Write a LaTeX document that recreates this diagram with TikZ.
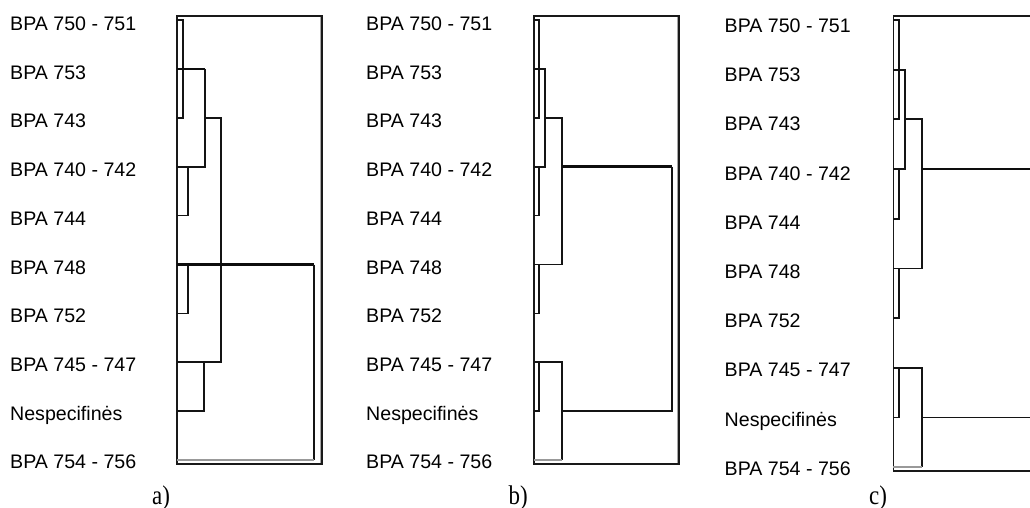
\documentclass[tikz,border=0pt]{standalone}
\usepackage{fontspec}
\usetikzlibrary{calc}
\newfontfamily\lblfont{Liberation Sans}
\newfontfamily\capfont{Liberation Serif}
\begin{document}
\begin{tikzpicture}[x=1pt,y=-1pt,
  den/.style={draw=black!92,line width=1.7pt},
  heavy/.style={draw=black!95,line width=2.6pt},
  faint/.style={draw=black!40,line width=1.6pt},
  frame/.style={draw=black!90,line width=1.6pt},
  lbl/.style={anchor=base west,inner sep=0pt,font=\lblfont\fontsize{19.6}{20}\selectfont},
  captxt/.style={anchor=base,inner sep=0pt,font=\capfont\fontsize{27}{27}\selectfont}]
\useasboundingbox (0,0) rectangle (1030,508);

% leaf labels of the three dendrograms
\foreach \t [count=\i from 0] in {BPA 750 - 751,BPA 753,BPA 743,BPA 740 - 742,BPA 744,BPA 748,BPA 752,BPA 745 - 747,Nespecifinės,BPA 754 - 756}{
  \node[lbl] (la\i) at (10,{30.5+48.7*\i}) {\t};
  \node[lbl] (lb\i) at (366,{30.5+48.7*\i}) {\t};
  \node[lbl] (lc\i) at (724.5,{32.5+49.2*\i}) {\t};
}

% leaf positions on the left axis of each dendrogram
\foreach \i in {1,...,10}{
  \coordinate (a\i) at (177,{20+48.9*(\i-1)});
  \coordinate (b\i) at (534,{20+48.9*(\i-1)});
  \coordinate (c\i) at (893.3,{20+49.67*(\i-1)});
}

% ---- dendrogram a)
\draw[frame] (177,16) rectangle (322,464);
\draw[draw=black!35,line width=1pt] (320,17) -- (320,463);
\draw[den] (a1) -- ++(5.7,0) |- (a3);
\draw[heavy] (a2) -- ++(28,0);
\draw[den] (a2) ++(28,0) |- (a4);
\draw[den] (a3) ++(28,0) -- ++(16,0) |- (a8);
\draw[den] (a4) ++(11.3,0) |- (a5);
\draw[den] (a6) -- ++(11.3,0) |- (a7);
\draw[heavy] (a6) -- ++(137,0);
\draw[den] ($(a6)+(137,0)$) -- ($(a10)+(137,0)$);
\draw[faint] ($(a10)+(137,0)$) -- (a10);
\draw[den] (a8) -- ++(27.3,0) |- (a9);

% ---- dendrogram b)
\draw[frame] (534,16) rectangle (679,464);
\draw[draw=black!35,line width=1pt] (677,17) -- (677,463);
\draw[den] (b1) -- ++(5.3,0) |- (b3);
\draw[den] (b2) -- ++(11.3,0) |- (b4);
\draw[den] (b3) ++(11.3,0) -- ++(16.4,0) |- (b6);
\draw[den] (b4) ++(5.3,0) |- (b5);
\draw[heavy] ($(b4)+(27.7,0)$) -- ($(b4)+(137.7,0)$);
\draw[den] ($(b4)+(137.7,0)$) -- ($(b9)+(137.7,0)$) -- ($(b9)+(27.7,0)$);
\draw[den] (b8) -- ++(27.7,0) -- ($(b10)+(27.7,0)$);
\draw[faint] ($(b10)+(27.7,0)$) -- (b10);
\draw[den] (b6) -- ++(5.3,0) |- (b7);
\draw[den] (b8) ++(5.3,0) |- (b9);

% ---- dendrogram c)
\draw[frame] (1031,16) -- (893.3,16) -- (893.3,471) -- (1031,471);
\draw[den] (c1) -- ++(6,0) |- (c3);
\draw[den] (c2) -- ++(12,0) |- (c4);
\draw[den] (c3) ++(12,0) -- ++(16.4,0) |- (c6);
\draw[den] (c4) ++(6,0) |- (c5);
\draw[den] (c6) -- ++(6,0) |- (c7);
\draw[heavy] ($(c4)+(28.4,0)$) -- ($(c4)+(137.7,0)$);
\draw[den] (c8) -- ++(28.4,0) -- ($(c10)+(28.4,0)$);
\draw[faint] ($(c10)+(28.4,0)$) -- (c10);
\draw[den] (c8) ++(6,0) |- (c9);
\draw[den] ($(c9)+(28.4,0)$) -- ($(c9)+(137.7,0)$);

% panel captions
\node[captxt] (capa) at (161,504.5) {\scalebox{0.85}[1]{a)}};
\node[captxt] (capb) at (518.3,504.5) {\scalebox{0.85}[1]{b)}};
\node[captxt] (capc) at (878,504.5) {\scalebox{0.85}[1]{c)}};
\end{tikzpicture}
\end{document}
